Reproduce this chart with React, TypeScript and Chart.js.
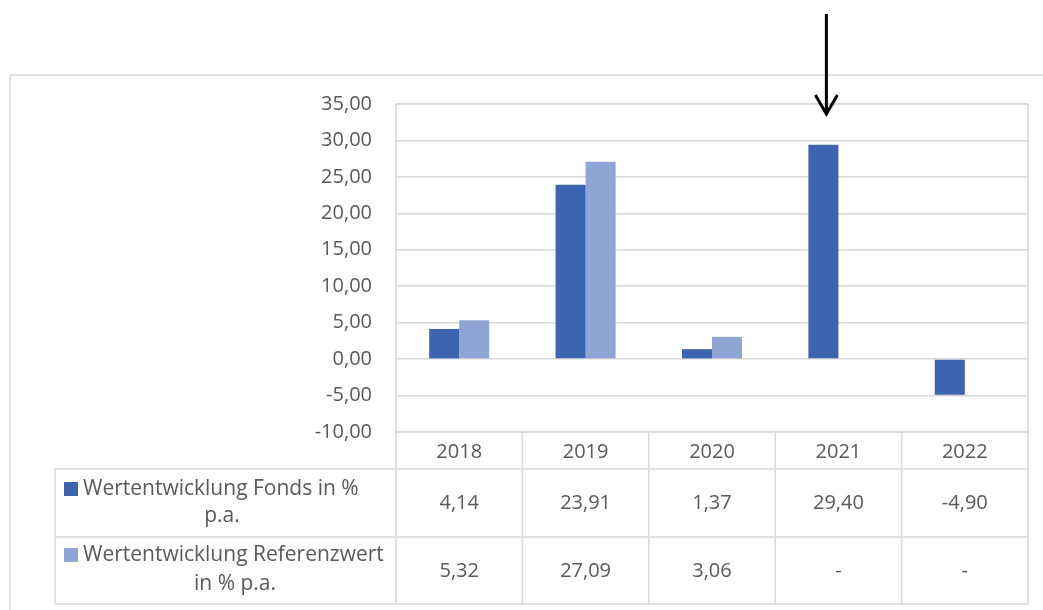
import React, { useEffect, useRef } from "react";
import { Chart, registerables } from "chart.js";

Chart.register(...registerables);

const categories = ["2018", "2019", "2020", "2021", "2022"];
const fondsValues: (number | null)[] = [4.14, 23.91, 1.37, 29.4, -4.9];
const referenzValues: (number | null)[] = [5.32, 27.09, 3.06, null, null];
const seriesNames = [
  "Wertentwicklung Fonds in % p.a.",
  "Wertentwicklung Referenzwert in % p.a.",
];
const seriesLabelLines = [
  ["Wertentwicklung Fonds in %", "p.a."],
  ["Wertentwicklung Referenzwert", "in % p.a."],
];
const yMin = -10;
const yMax = 35;
const yStep = 5;
const highlightIndex = 3;

const FONDS_COLOR = "#3D64AE";
const REF_COLOR = "#8FA5D5";
const GRID = "#D9D9D9";
const TEXT = "#595959";
const FONT = "'Open Sans', 'Noto Sans', sans-serif";

const fmt = (v: number | null) =>
  v === null ? "-" : v.toFixed(2).replace(".", ",");

const tablePlugin = {
  id: "tablePlugin",
  afterDraw(chart: any) {
    const ctx = chart.ctx as CanvasRenderingContext2D;
    const area = chart.chartArea;
    const xs = chart.scales.x;
    const n = categories.length;
    const colW = (area.right - area.left) / n;
    const axisBottom = 469;
    const row1Bottom = 537;
    const row2Bottom = 604;
    const legendLeft = 55;

    ctx.save();
    ctx.strokeStyle = GRID;
    ctx.lineWidth = 1.5;
    const line = (x1: number, y1: number, x2: number, y2: number) => {
      ctx.beginPath();
      ctx.moveTo(x1, y1);
      ctx.lineTo(x2, y2);
      ctx.stroke();
    };
    // outer frame
    line(10, 75, 1043, 75);
    line(10, 75, 10, 610);
    // plot border
    line(area.left, area.top, area.right, area.top);
    line(area.left, area.top, area.left, row2Bottom);
    line(area.right, area.top, area.right, row2Bottom);
    // table lines
    line(area.left, area.bottom, area.right, area.bottom);
    line(legendLeft, axisBottom, area.right, axisBottom);
    line(legendLeft, row1Bottom, area.right, row1Bottom);
    line(legendLeft, row2Bottom, area.right, row2Bottom);
    line(legendLeft, axisBottom, legendLeft, row2Bottom);
    for (let i = 1; i < n; i++) {
      const x = area.left + i * colW;
      line(x, area.bottom, x, row2Bottom);
    }

    // values
    ctx.fillStyle = TEXT;
    ctx.font = `20px ${FONT}`;
    ctx.textAlign = "center";
    ctx.textBaseline = "middle";
    const rows = [fondsValues, referenzValues];
    const rowCenters = [503, 571];
    rows.forEach((vals, r) => {
      vals.forEach((v, i) => {
        const x = xs.getPixelForValue(i);
        ctx.fillText(fmt(v), x, rowCenters[r]);
      });
    });

    // legend cells
    ctx.font = `21px ${FONT}`;
    const markerColors = [FONDS_COLOR, REF_COLOR];
    const lineCenters = [
      [489, 516],
      [555, 584],
    ];
    const secondLineCenters = [222, 235];
    seriesLabelLines.forEach((lines, r) => {
      ctx.fillStyle = markerColors[r];
      ctx.fillRect(64, lineCenters[r][0] - 7, 14, 14);
      ctx.fillStyle = TEXT;
      ctx.textAlign = "left";
      ctx.fillText(lines[0], 83, lineCenters[r][0]);
      ctx.textAlign = "center";
      ctx.fillText(lines[1], secondLineCenters[r], lineCenters[r][1]);
    });

    // arrow above highlighted bar
    const bar = chart.getDatasetMeta(0).data[highlightIndex];
    if (bar) {
      const ax = bar.x + 3;
      ctx.strokeStyle = "#000";
      ctx.lineWidth = 3;
      ctx.lineCap = "butt";
      line(ax, 14, ax, 114);
      ctx.beginPath();
      ctx.moveTo(ax - 11, 95);
      ctx.lineTo(ax, 114);
      ctx.lineTo(ax + 11, 95);
      ctx.stroke();
    }
    ctx.restore();
  },
};

export default function App() {
  const ref = useRef<HTMLCanvasElement | null>(null);
  useEffect(() => {
    if (!ref.current) return;
    const chart = new Chart(ref.current, {
      type: "bar",
      data: {
        labels: categories,
        datasets: [
          {
            label: seriesNames[0],
            data: fondsValues,
            backgroundColor: FONDS_COLOR,
            borderWidth: 0,
          },
          {
            label: seriesNames[1],
            data: referenzValues,
            backgroundColor: REF_COLOR,
            borderWidth: 0,
          },
        ],
      },
      options: {
        animation: false,
        responsive: false,
        devicePixelRatio: 1,
        layout: { padding: { top: 104, right: 15, bottom: 141, left: 0 } },
        plugins: {
          legend: { display: false },
          tooltip: { enabled: false },
        },
        datasets: {
          bar: { categoryPercentage: 0.475, barPercentage: 1 },
        },
        scales: {
          x: {
            grid: { display: false },
            border: { display: false },
            ticks: {
              color: TEXT,
              font: { family: FONT, size: 20 },
              padding: 0,
              maxRotation: 0,
            },
            afterFit: (s: any) => {
              s.height = 37;
            },
          },
          y: {
            min: yMin,
            max: yMax,
            border: { display: false },
            grid: { color: GRID, lineWidth: 1.5, drawTicks: false },
            ticks: {
              stepSize: yStep,
              color: TEXT,
              font: { family: FONT, size: 20 },
              padding: 24,
              callback: (v: any) => fmt(Number(v)),
            },
            afterFit: (s: any) => {
              s.width = 396;
            },
          },
        },
      },
      plugins: [tablePlugin],
    });
    return () => chart.destroy();
  }, []);
  return (
    <div style={{ position: "absolute", left: 0, top: 0, width: 1043, height: 610, background: "#fff" }}>
      <canvas ref={ref} width={1043} height={610} />
    </div>
  );
}
